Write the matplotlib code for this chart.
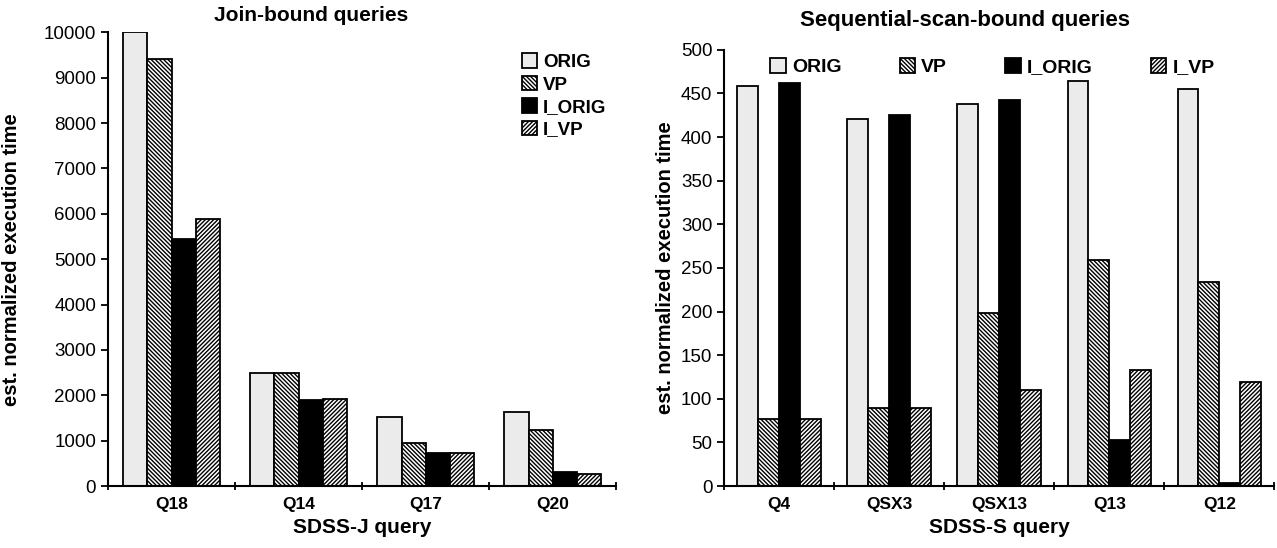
import matplotlib
matplotlib.use("Agg")
import matplotlib.pyplot as plt
import numpy as np
from matplotlib import rcParams

rcParams["font.family"] = ["Liberation Sans", "DejaVu Sans"]
rcParams["font.size"] = 13
rcParams["hatch.linewidth"] = 1.0

# Data
series = ["ORIG", "VP", "I_ORIG", "I_VP"]

join_queries = ["Q18", "Q14", "Q17", "Q20"]
join_orig = [10000, 2490, 1520, 1630]
join_vp = [9420, 2490, 950, 1230]
join_iorig = [5440, 1890, 730, 310]
join_ivp = [5880, 1930, 730, 265]

scan_queries = ["Q4", "QSX3", "QSX13", "Q13", "Q12"]
scan_orig = [459, 421, 438, 464, 455]
scan_vp = [77, 89, 198, 259, 234]
scan_iorig = [462, 425, 443, 53, 3]
scan_ivp = [77, 89, 110, 133, 119]

styles = [
    dict(facecolor="#ebebeb", hatch=None),
    dict(facecolor="white", hatch="\\" * 8),
    dict(facecolor="black", hatch=None),
    dict(facecolor="white", hatch="/" * 8),
]


def draw_panel(ax, cats, vals, ymax, ystep):
    x = np.arange(len(cats))
    w = 0.19
    for i, (v, st) in enumerate(zip(vals, styles)):
        ax.bar(x + (i - 1.5) * w, v, w, label=series[i], edgecolor="black",
               linewidth=1.3, **st)
    ax.set_xlim(-0.5, len(cats) - 0.5)
    ax.set_ylim(0, ymax)
    ax.set_yticks(np.arange(0, ymax + 1, ystep))
    ax.set_xticks(x)
    ax.set_xticklabels(cats, fontweight="bold", fontsize=12.5)
    ax.set_xticks(np.arange(-0.5, len(cats)), minor=True)
    ax.tick_params(axis="x", which="major", length=0, pad=8)
    ax.tick_params(axis="x", which="minor", length=6, width=1.3, direction="inout")
    ax.tick_params(axis="y", length=5, width=1.3, labelsize=13.5)
    for s in ["top", "right"]:
        ax.spines[s].set_visible(False)
    for s in ["left", "bottom"]:
        ax.spines[s].set_linewidth(1.5)
    ax.set_ylabel("est. normalized execution time", fontweight="bold", fontsize=14.5)


fig = plt.figure(figsize=(12.77, 5.48), dpi=100)
ax1 = fig.add_axes([0.0846, 0.113, 0.398, 0.828])
ax2 = fig.add_axes([0.567, 0.113, 0.431, 0.796])

draw_panel(ax1, join_queries, [join_orig, join_vp, join_iorig, join_ivp], 10000, 1000)
ax1.set_xlabel("SDSS-J query", fontweight="bold", fontsize=15, labelpad=4)
ax1.yaxis.set_label_coords(-0.172, 0.5)
ax1.legend(loc="upper left", bbox_to_anchor=(0.8, 0.97), frameon=False,
           handlelength=0.8, handleheight=0.8, handletextpad=0.3,
           labelspacing=0.25, borderaxespad=0,
           prop={"weight": "bold", "size": 13.5})

draw_panel(ax2, scan_queries, [scan_orig, scan_vp, scan_iorig, scan_ivp], 500, 50)
ax2.set_xlabel("SDSS-S query", fontweight="bold", fontsize=15, labelpad=4)
ax2.yaxis.set_label_coords(-0.09, 0.5)
ax2.legend(loc="upper left", bbox_to_anchor=(0.07, 1.0), frameon=False, ncol=4,
           handlelength=0.8, handleheight=0.8, handletextpad=0.3,
           columnspacing=3.0, borderaxespad=0,
           prop={"weight": "bold", "size": 14})

fig.text(0.244, 0.972, "Join-bound queries", ha="center", va="center",
         fontweight="bold", fontsize=15)
fig.text(0.756, 0.963, "Sequential-scan-bound queries", ha="center", va="center",
         fontweight="bold", fontsize=16)

fig.savefig("out.png", dpi=100)
